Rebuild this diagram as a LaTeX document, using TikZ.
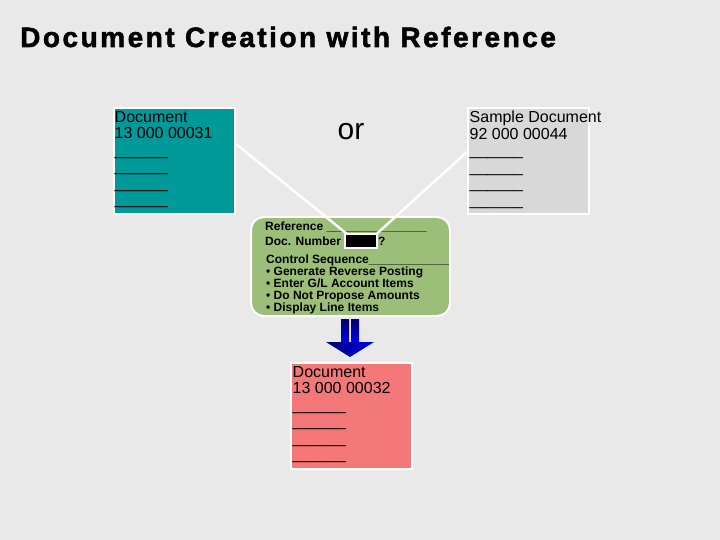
\documentclass[tikz,border=0pt]{standalone}
\usepackage{fontspec}
\setmainfont{Liberation Sans}
\newfontfamily\titlefont[LetterSpace=9,FakeBold=1.8]{Liberation Sans Bold}
\definecolor{bgc}{HTML}{E9E9E9}
\definecolor{tealc}{HTML}{009999}
\definecolor{grayc}{HTML}{D8D8D8}
\definecolor{greenc}{HTML}{9BBE78}
\definecolor{redc}{HTML}{F47878}
\definecolor{navy}{HTML}{000070}
\definecolor{brightblue}{HTML}{0000F0}
\tikzset{
  docbox/.style={draw=white, line width=2pt, anchor=north west, inner sep=0pt,
    minimum width=121pt, minimum height=106pt},
  doctext/.style={anchor=north west, inner sep=0pt, align=left,
    font=\fontsize{16}{16.5}\selectfont},
  gtext/.style={anchor=base west, inner sep=0pt,
    font=\bfseries\fontsize{12}{12}\selectfont},
  conn/.style={draw=white, line width=2.5pt},
}
\begin{document}
\begin{tikzpicture}[x=1pt,y=-1pt]
\useasboundingbox[fill=bgc] (0,0) rectangle (720,540);

% title
\node[anchor=base west, inner sep=0pt, font=\titlefont\fontsize{28}{30}\selectfont] (title) at (20,47) {Document Creation with Reference};

% document boxes
\node[docbox, fill=tealc] (d1) at (113,107) {};
\node[doctext] (t1) at (114.5,111) {Document\\13 000 00031\\\_\_\_\_\_\_\\\_\_\_\_\_\_\\\_\_\_\_\_\_\\\_\_\_\_\_\_};

\node[docbox, fill=grayc] (d2) at (467,107) {};
\node[doctext] (t2) at (469.5,111) {Sample Document\\92 000 00044\\\_\_\_\_\_\_\\\_\_\_\_\_\_\\\_\_\_\_\_\_\\\_\_\_\_\_\_};

\node[docbox, fill=redc] (d3) at (290,362) {};
\node[doctext] (t3) at (292.5,366) {Document\\13 000 00032\\\_\_\_\_\_\_\\\_\_\_\_\_\_\\\_\_\_\_\_\_\\\_\_\_\_\_\_};

% or
\node[inner sep=0pt, anchor=base, font=\fontsize{30}{32}\selectfont] (or) at (351,140) {or};

% green box
\draw[draw=white, line width=2pt, fill=greenc, rounded corners=13pt] (251,217) rectangle (450,316);
\node[gtext] (r1) at (265,230) {Reference \_\_\_\_\_\_\_\_\_\_\_\_\_\_\_};
\node[gtext] (r2) at (265,245) {Doc. Number};
\node[draw=white, line width=1.5pt, fill=black, anchor=north west, inner sep=0pt,
  minimum width=32pt, minimum height=14pt] (blk) at (344,233) {};
\node[gtext] (q) at (378,245) {?};
\node[gtext] (r3) at (266,263) {Control Sequence\_\_\_\_\_\_\_\_\_\_\_\_};
\node[gtext] (b1) at (266,275) {• Generate Reverse Posting};
\node[gtext] (b2) at (266,287) {• Enter G/L Account Items};
\node[gtext] (b3) at (266,299) {• Do Not Propose Amounts};
\node[gtext] (b4) at (266,311) {• Display Line Items};

% white connectors
\coordinate (s1) at (236,144);
\coordinate (s2) at (468,151);
\draw[conn] (s1) -- ([xshift=3pt,yshift=-1pt]blk.north west);
\draw[conn] (s2) -- ([xshift=-1pt,yshift=-1pt]blk.north east);

% blue double arrow
\shade[top color=navy, bottom color=brightblue] (341,319) rectangle (349,343);
\shade[top color=navy, bottom color=brightblue] (351,319) rectangle (359,343);
\shade[left color=navy, right color=brightblue] (326,342) -- (374,342) -- (350,357) -- cycle;
\end{tikzpicture}
\end{document}
